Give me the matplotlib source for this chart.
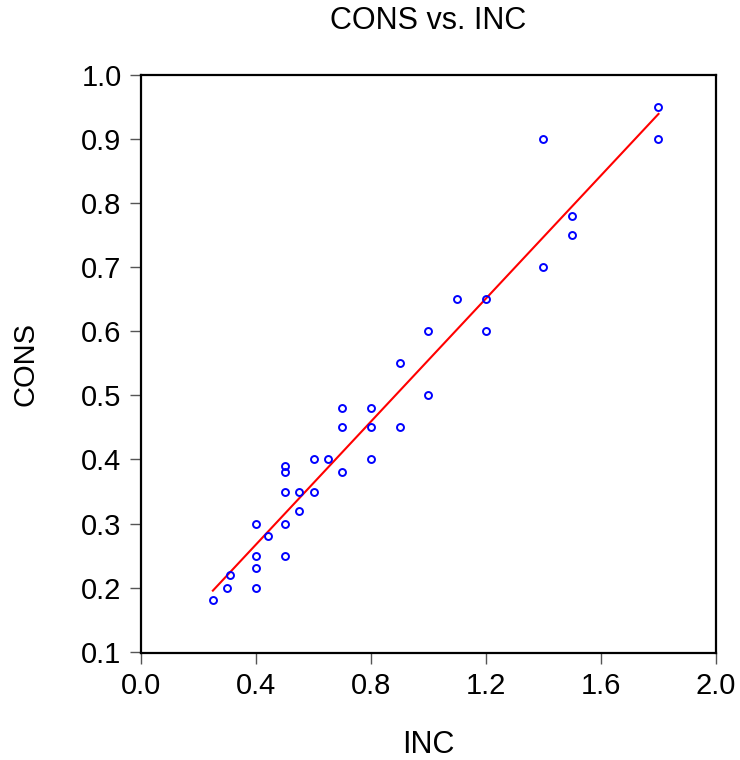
import numpy as np
import matplotlib
matplotlib.use("Agg")
import matplotlib.pyplot as plt

plt.rcParams['font.family'] = ['Liberation Sans', 'DejaVu Sans']

inc = [0.25, 0.3, 0.31, 0.4, 0.4, 0.4, 0.4, 0.44, 0.5, 0.5, 0.5, 0.5, 0.5,
       0.55, 0.55, 0.6, 0.6, 0.65, 0.7, 0.7, 0.7, 0.8, 0.8, 0.8, 0.9, 0.9,
       1.0, 1.0, 1.1, 1.2, 1.2, 1.4, 1.4, 1.5, 1.5, 1.8, 1.8]
cons = [0.18, 0.2, 0.22, 0.2, 0.23, 0.25, 0.30, 0.28, 0.25, 0.30, 0.35, 0.38, 0.39,
        0.35, 0.32, 0.35, 0.4, 0.4, 0.38, 0.45, 0.48, 0.4, 0.45, 0.48, 0.45, 0.55,
        0.5, 0.6, 0.65, 0.65, 0.6, 0.9, 0.7, 0.78, 0.75, 0.95, 0.9]
xticks = [0.0, 0.4, 0.8, 1.2, 1.6, 2.0]
yticks = [0.1, 0.2, 0.3, 0.4, 0.5, 0.6, 0.7, 0.8, 0.9, 1.0]

x = np.array(inc)
y = np.array(cons)
b, a = np.polyfit(x, y, 1)

fig = plt.figure(figsize=(7.4, 7.6), dpi=100)
ax = fig.add_axes([141/740, 1 - 653/760, (716 - 141)/740, (653 - 75)/760])

xs = np.array([x.min(), x.max()])
ax.plot(xs, a + b * xs, color='red', lw=1.5, zorder=2)
ax.plot(x, y, linestyle='none', marker='o', markersize=5, markerfacecolor='none',
        markeredgecolor='blue', markeredgewidth=1.4, zorder=3)

ax.set_xlim(0, 2.0)
ax.set_ylim(0.098, 1.0)
ax.set_xticks(xticks)
ax.set_xticklabels([f"{t:.1f}" for t in xticks])
ax.set_yticks(yticks)
ax.set_yticklabels([f"{t:.1f}" for t in yticks])
ax.tick_params(direction='out', length=8, width=1.0, color='#555555',
               labelsize=21, pad=6, labelcolor='black')
for s in ax.spines.values():
    s.set_linewidth(1.6)
    s.set_color('black')

ax.set_title("CONS vs. INC", fontsize=22, pad=33)
ax.set_xlabel("INC", fontsize=22, labelpad=21)
ax.set_ylabel("CONS", fontsize=21, labelpad=30)

fig.savefig("out.png", dpi=100)
